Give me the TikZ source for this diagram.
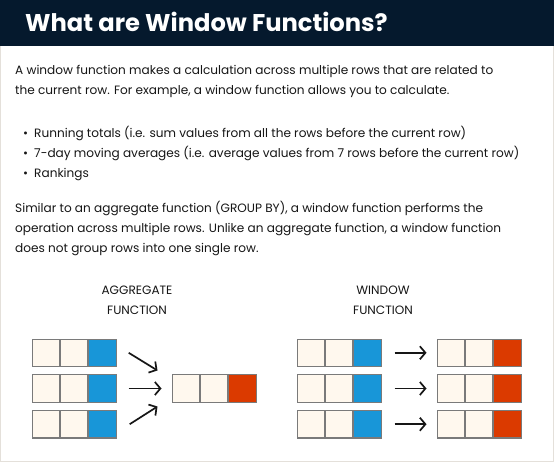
\documentclass[tikz,border=0pt]{standalone}
\usepackage{fontspec}
\setmainfont{Poppins}
\usetikzlibrary{arrows.meta, positioning, calc}
\definecolor{navy}{HTML}{05192D}
\definecolor{ink}{HTML}{161616}
\definecolor{cream}{HTML}{FFF8EE}
\definecolor{cellrule}{HTML}{7A7A7A}
\definecolor{cellblue}{HTML}{1896D8}
\definecolor{cellred}{HTML}{DB3A00}
\definecolor{frame}{HTML}{E4E0DA}
\tikzset{
  cell/.style   ={draw=cellrule, line width=1.1pt, fill=cream,
                  minimum size=27.5pt, inner sep=0pt},
  cellb/.style  ={cell, fill=cellblue},
  cellr/.style  ={cell, fill=cellred},
  flow/.style   ={-{Straight Barb[length=5.5pt,width=13pt]}, line width=1.7pt, draw=ink},
  body/.style   ={font=\fontsize{12.1}{20}\selectfont, text=ink, inner sep=0pt,
                  align=left, anchor=north west},
  caption/.style={body, align=center, anchor=north}
}

\begin{document}
\begin{tikzpicture}[x=1pt, y=-1pt]

  % page and header
  \useasboundingbox (0,0) rectangle (554,462);
  \fill[white] (0,0) rectangle (554,462);
  \draw[frame, line width=1pt] (0.5,0.5) rectangle (553.5,461.5);
  \fill[navy] (0,0) rectangle (554,46);
  \node[anchor=base west, inner sep=0pt, text=white,
        font=\fontsize{24.2}{28}\selectfont\bfseries] (title) at (25,32)
        {What are Window Functions?};

  % text
  \node[body] (intro) at (15,65)
    {A window function makes a calculation across multiple rows that are related to\\
     the current row. For example, a window function allows you to calculate.};
  \node[body] (uses) at (23,126)
    {•\enspace Running totals (i.e. sum values from all the rows before the current row)\\
     •\enspace 7-day moving averages (i.e. average values from 7 rows before the current row)\\
     •\enspace Rankings};
  \node[body] (compare) at (15,201)
    {Similar to an aggregate function (GROUP BY), a window function performs the\\
     operation across multiple rows. Unlike an aggregate function, a window function\\
     does not group rows into one single row.};

  \node[caption] (aggcap) at (137,286) {AGGREGATE\\FUNCTION};
  \node[caption] (wincap) at (383,286) {WINDOW\\FUNCTION};

  % rows
  \foreach \r/\y in {1/352.8, 2/388.5, 3/424.2} {
    \node[cell]  (a\r1) at (45.8,\y)  {};
    \node[cell]  (a\r2) at (74.1,\y)  {};
    \node[cellb] (a\r3) at (102.4,\y) {};
    \node[cell]  (w\r1) at (310.8,\y) {};
    \node[cell]  (w\r2) at (339.1,\y) {};
    \node[cellb] (w\r3) at (367.4,\y) {};
    \node[cell]  (v\r1) at (450.8,\y) {};
    \node[cell]  (v\r2) at (479.1,\y) {};
    \node[cellr] (v\r3) at (507.4,\y) {};
  }
  \node[cell]  (r1) at (185.8,388.5) {};
  \node[cell]  (r2) at (214.1,388.5) {};
  \node[cellr] (r3) at (242.4,388.5) {};

  % arrows
  \draw[flow] ([xshift=12pt]a13.east) -- ([xshift=-14pt,yshift=18pt]r1.west);
  \draw[flow, shorten <=12pt, shorten >=10pt] (a23) -- (r1);
  \draw[flow] ([xshift=13pt]a33.east) -- ([xshift=-14pt,yshift=-18pt]r1.west);
  \foreach \r in {1,2,3}
    \draw[flow, shorten <=13pt, shorten >=10pt] (w\r3) -- (v\r1);

\end{tikzpicture}
\end{document}
